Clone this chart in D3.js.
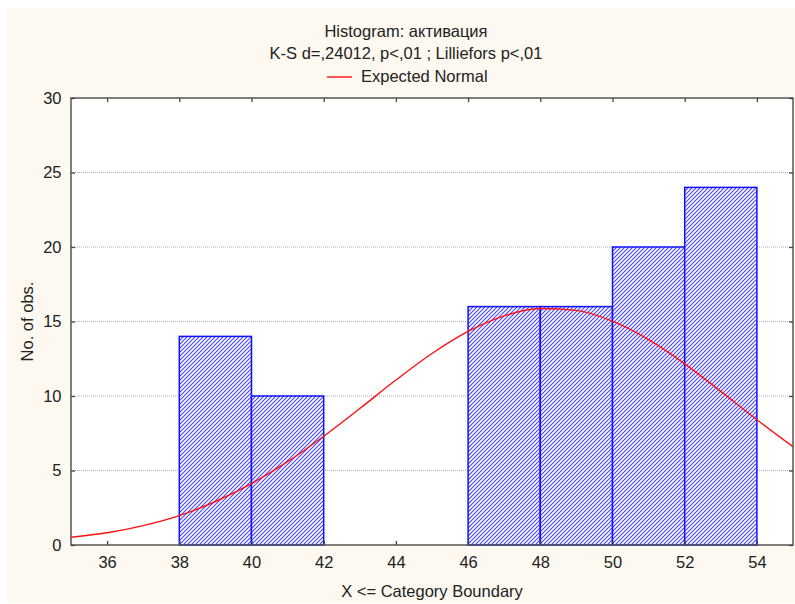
<!DOCTYPE html>
<html><head><meta charset="utf-8">
<script src="https://cdn.jsdelivr.net/npm/d3@7"></script>
<style>body{margin:0;background:#fff}svg{display:block}text{font-family:"Liberation Sans",Arial,sans-serif;fill:#222}</style>
</head><body>
<svg id="c" width="795" height="604"></svg>
<script>
const binStarts = [38, 40, 46, 48, 50, 52];
const binWidth = 2;
const binCounts = [14, 10, 16, 16, 20, 24];
const curveX = [35,36,37,38,39,40,41,42,43,44,45,46,47,48,49,50,51,52,53,54,55];
const curveY = [0.52,0.82,1.30,1.97,2.92,4.12,5.59,7.30,9.16,11.07,12.85,14.33,15.38,15.87,15.75,15.02,13.78,12.16,10.31,8.41,6.60];
const xTicks = [36,38,40,42,44,46,48,50,52,54];
const yTicks = [0,5,10,15,20,25,30];
const titleLines = ["Histogram: активация", "K-S d=,24012, p<,01 ; Lilliefors p<,01"];
const legendLabel = "Expected Normal";
const xTitle = "X <= Category Boundary";
const yTitle = "No. of obs.";

const svg = d3.select("#c");
const L = 71, R = 793, T = 98, B = 545;
const FS = 16.5;
const x = d3.scaleLinear().domain([35, 55]).range([L, R]);
const y = d3.scaleLinear().domain([0, 30]).range([B, T]);

svg.append("rect").attr("x",7).attr("y",8).attr("width",788).attr("height",595).attr("fill","#fdf9f0");
svg.append("rect").attr("x",L).attr("y",T).attr("width",R-L).attr("height",B-T).attr("fill","#fff");

const defs = svg.append("defs");
const P = 4;
const pat = defs.append("pattern").attr("id","hatch").attr("patternUnits","userSpaceOnUse")
  .attr("width",P).attr("height",P);
pat.append("rect").attr("width",P).attr("height",P).attr("fill","#fff");
pat.append("path").attr("d",`M-1,1 l2,-2 M0,${P} l${P},-${P} M${P-1},${P+1} l2,-2`)
  .attr("stroke","#4a4aff").attr("stroke-width",1.2);
defs.append("clipPath").attr("id","clip").append("rect").attr("x",L).attr("y",T).attr("width",R-L).attr("height",B-T);

// grid
svg.append("g").selectAll("line").data(yTicks.filter(d=>d>0&&d<30)).join("line")
  .attr("x1",L).attr("x2",R).attr("y1",d=>y(d)).attr("y2",d=>y(d))
  .attr("stroke","#aaa").attr("stroke-width",1).attr("stroke-dasharray","1,1");

// bars
svg.append("g").selectAll("rect").data(binStarts).join("rect")
  .attr("x",(d)=>x(d)).attr("width",d=>x(d+binWidth)-x(d))
  .attr("y",(d,i)=>y(binCounts[i])).attr("height",(d,i)=>y(0)-y(binCounts[i]))
  .attr("fill","url(#hatch)").attr("stroke","#1010ff").attr("stroke-width",1.5);

// curve
const line = d3.line().x((d,i)=>x(curveX[i])).y(d=>y(d)).curve(d3.curveMonotoneX);
svg.append("path").datum(curveY).attr("d",line).attr("fill","none")
  .attr("stroke","#ff1010").attr("stroke-width",1.4).attr("clip-path","url(#clip)");

// frame
svg.append("rect").attr("x",L).attr("y",T).attr("width",R-L).attr("height",B-T)
  .attr("fill","none").attr("stroke","#555").attr("stroke-width",1.5);

// axes (ticks inward)
const fmt = d3.format("d");
const gB = svg.append("g").attr("transform",`translate(0,${B})`).call(d3.axisBottom(x).tickValues(xTicks).tickSizeInner(-4).tickSizeOuter(0).tickPadding(11.5).tickFormat(fmt));
const gT = svg.append("g").attr("transform",`translate(0,${T})`).call(d3.axisTop(x).tickValues(xTicks).tickSizeInner(-4).tickSizeOuter(0).tickFormat(""));
const gL = svg.append("g").attr("transform",`translate(${L},0)`).call(d3.axisLeft(y).tickValues(yTicks).tickSizeInner(-4).tickSizeOuter(0).tickPadding(9.5).tickFormat(fmt));
const gR = svg.append("g").attr("transform",`translate(${R},0)`).call(d3.axisRight(y).tickValues(yTicks).tickSizeInner(-4).tickSizeOuter(0).tickFormat(""));
[gB,gT,gL,gR].forEach(g=>{
  g.select(".domain").remove();
  g.selectAll(".tick line").attr("stroke","#444").attr("stroke-width",1.3);
  g.selectAll("text").attr("font-size",FS).attr("font-family","Liberation Sans, Arial, sans-serif").attr("fill","#222");
});

// titles
svg.append("g").selectAll("text").data(titleLines).join("text")
  .attr("x",406).attr("y",(d,i)=>[36.5,59.3][i]).attr("text-anchor","middle").attr("font-size",FS).text(d=>d);
svg.append("line").attr("x1",327).attr("x2",352).attr("y1",77).attr("y2",77).attr("stroke","#ff1010").attr("stroke-width",1.4);
svg.append("text").attr("x",361).attr("y",81.5).attr("font-size",FS).text(legendLabel);

svg.append("text").attr("x",(L+R)/2).attr("y",597).attr("text-anchor","middle").attr("font-size",FS).text(xTitle);
svg.append("text").attr("transform",`translate(32.5,${(T+B)/2}) rotate(-90)`).attr("text-anchor","middle").attr("font-size",FS).text(yTitle);
</script>
</body></html>
